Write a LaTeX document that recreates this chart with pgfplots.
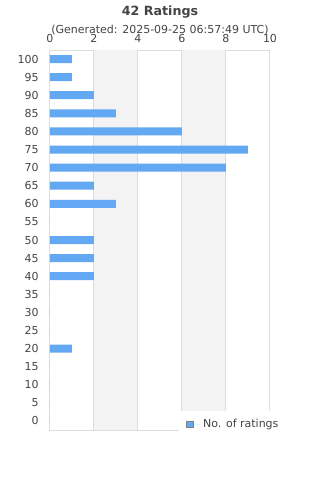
\documentclass[border=0pt]{standalone}
\usepackage{fontspec}
\setmainfont{DejaVu Sans}
\usepackage{pgfplots}
\pgfplotsset{compat=1.18}
\definecolor{barblue}{HTML}{62A8F2}
\definecolor{gridc}{HTML}{DDDDDD}
\definecolor{bandc}{HTML}{F3F3F3}
\definecolor{txt}{HTML}{444444}
\begin{document}
\begin{tikzpicture}
\path[use as bounding box] (0pt,0pt) rectangle (240pt,360pt);
\node[font=\bfseries\fontsize{9.5}{11}\selectfont, text=txt] at (120pt,351pt) {42 Ratings};
\node[font=\fontsize{8.25}{10}\selectfont, text=txt] at (120pt,337.5pt) {(Generated: 2025-09-25 06:57:49 UTC)};
\begin{axis}[
  at={(37.5pt,37.5pt)}, anchor=south west,
  width=165pt, height=285pt, scale only axis,
  xmin=0, xmax=10, ymin=-2.5, ymax=102.5,
  xtick={0,2,...,10}, ytick={0,5,...,100},
  xticklabel pos=upper,
  major tick length=0pt,
  axis line style={gridc, line width=0.75pt},
  tick label style={font=\fontsize{8.25}{10}\selectfont, text=txt},
  xticklabel style={yshift=2pt},
  yticklabel style={xshift=-5pt},
  /pgf/number format/assume math mode=true,
  legend style={at={(1.082,0.015)}, anchor=east, draw=none, fill=white,
    font=\fontsize{8.25}{10}\selectfont, text=txt, inner xsep=5pt, inner ysep=4pt},
  legend image code/.code={\path (0pt,0pt) -- (10.5pt,0pt);\draw[fill=barblue, draw=gray, line width=0.5pt] (0pt,-2.6pt) rectangle (5.2pt,2.6pt);},
]
\addplot[fill=bandc, draw=none, forget plot] coordinates {(2,-2.5) (4,-2.5) (4,102.5) (2,102.5)} -- cycle;
\addplot[fill=bandc, draw=none, forget plot] coordinates {(6,-2.5) (8,-2.5) (8,102.5) (6,102.5)} -- cycle;
\addplot[gridc, line width=0.75pt, forget plot] coordinates {(2,-2.5) (2,102.5)};
\addplot[gridc, line width=0.75pt, forget plot] coordinates {(4,-2.5) (4,102.5)};
\addplot[gridc, line width=0.75pt, forget plot] coordinates {(6,-2.5) (6,102.5)};
\addplot[gridc, line width=0.75pt, forget plot] coordinates {(8,-2.5) (8,102.5)};
\addplot[xbar, bar width=6pt, fill=barblue, draw=none] coordinates {
(0,0) (0,5) (0,10) (0,15) (1,20) (0,25) (0,30) (0,35) (2,40) (2,45) (2,50)
(0,55) (3,60) (2,65) (8,70) (9,75) (6,80) (3,85) (2,90) (1,95) (1,100)};
\addlegendentry{No. of ratings}
\end{axis}
\end{tikzpicture}
\end{document}
